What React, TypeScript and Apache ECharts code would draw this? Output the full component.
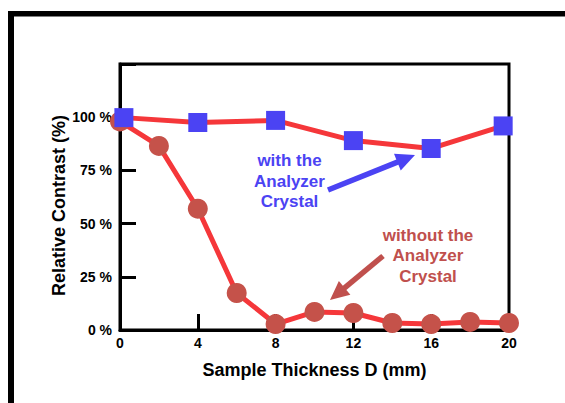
import React, { useEffect, useRef } from "react";
import * as echarts from "echarts";

const redX = [0, 2, 4, 6, 8, 10, 12, 14, 16, 18, 20];
const redY = [98, 86.5, 57, 17.4, 2.8, 8.5, 8, 3.3, 2.8, 3.8, 3.3];
const blueX = [0.2, 4, 8, 12, 16, 19.7];
const blueY = [99.8, 97.5, 98.5, 89, 85.3, 95.9];
const xTicks = [0, 4, 8, 12, 16, 20];
const yTicks = [0, 25, 50, 75, 100];

const FONT = "'Liberation Sans', Arial, Helvetica, sans-serif";
const LINE_RED = "#f5373a";
const CIRCLE_RED = "#c5524a";
const BLUE = "#4b43f3";
const TEXT_RED = "#c0504d";

function arrow(x1: number, y1: number, x2: number, y2: number, color: string) {
  const dx = x2 - x1;
  const dy = y2 - y1;
  const len = Math.sqrt(dx * dx + dy * dy);
  const ux = dx / len;
  const uy = dy / len;
  const headLen = 19;
  const headW = 9;
  const bx = x2 - ux * headLen;
  const by = y2 - uy * headLen;
  const px = -uy;
  const py = ux;
  return [
    {
      type: "line",
      z: 100,
      shape: { x1, y1, x2: bx + ux * 2, y2: by + uy * 2 },
      style: { stroke: color, lineWidth: 5.5 },
    },
    {
      type: "polygon",
      z: 100,
      shape: {
        points: [
          [x2, y2],
          [bx + px * headW, by + py * headW],
          [bx - px * headW, by - py * headW],
        ],
      },
      style: { fill: color },
    },
  ];
}

export default function App() {
  const ref = useRef<HTMLDivElement>(null);
  useEffect(() => {
    const chart = echarts.init(ref.current!, null, { renderer: "svg" });
    const labelStyle = { color: "#000", fontWeight: "bold", fontSize: 14, fontFamily: FONT };
    chart.setOption({
      animation: false,
      backgroundColor: "#fff",
      grid: {
        left: 120,
        right: 56,
        top: 64,
        bottom: 73,
        show: true,
        borderColor: "#000",
        borderWidth: 3,
      },
      xAxis: {
        type: "value",
        min: xTicks[0],
        max: xTicks[xTicks.length - 1],
        interval: 4,
        splitLine: { show: false },
        axisLine: { show: true, lineStyle: { color: "#000", width: 3 } },
        axisTick: { show: true, inside: true, length: 16, lineStyle: { color: "#000", width: 3 } },
        axisLabel: { ...labelStyle, margin: 6, formatter: (v: number) => String(v) },
        name: "Sample Thickness D (mm)",
        nameLocation: "middle",
        nameGap: 31,
        nameTextStyle: { color: "#000", fontWeight: "bold", fontSize: 18, fontFamily: FONT },
      },
      yAxis: {
        type: "value",
        min: 0,
        max: 125,
        interval: 25,
        splitLine: { show: false },
        axisLine: { show: true, lineStyle: { color: "#000", width: 3 } },
        axisTick: { show: true, inside: true, length: 16, lineStyle: { color: "#000", width: 3 } },
        axisLabel: {
          ...labelStyle,
          margin: 8,
          formatter: (v: number) => (yTicks.indexOf(v) >= 0 ? v + " %" : ""),
        },
      },
      series: [
        {
          type: "line",
          data: redX.map((x, i) => [x, redY[i]]),
          symbol: "circle",
          symbolSize: 20,
          lineStyle: { color: LINE_RED, width: 5 },
          itemStyle: { color: CIRCLE_RED },
          z: 2,
        },
        {
          type: "line",
          data: blueX.map((x, i) => [x, blueY[i]]),
          symbol: "rect",
          symbolSize: 19,
          lineStyle: { color: LINE_RED, width: 5 },
          itemStyle: { color: BLUE },
          z: 3,
        },
      ],
      graphic: [
        { type: "rect", z: 100, shape: { x: 8, y: 11, width: 557, height: 5.5 }, style: { fill: "#000" } },
        { type: "rect", z: 100, shape: { x: 8, y: 11, width: 6, height: 392 }, style: { fill: "#000" } },
        {
          type: "text",
          z: 100,
          x: 59,
          y: 205.5,
          rotation: Math.PI / 2,
          style: {
            text: "Relative Contrast (%)",
            align: "center",
            verticalAlign: "middle",
            fill: "#000",
            font: `bold 18px ${FONT}`,
          },
        },
        {
          type: "text",
          z: 100,
          x: 289.5,
          y: 181,
          style: {
            text: "with the\nAnalyzer\nCrystal",
            align: "center",
            verticalAlign: "middle",
            fill: BLUE,
            font: `bold 17px ${FONT}`,
            lineHeight: 20.5,
          },
        },
        {
          type: "text",
          z: 100,
          x: 428,
          y: 255.5,
          style: {
            text: "without the\nAnalyzer\nCrystal",
            align: "center",
            verticalAlign: "middle",
            fill: TEXT_RED,
            font: `bold 17px ${FONT}`,
            lineHeight: 20.5,
          },
        },
        ...arrow(328, 190, 415, 155, BLUE),
        ...arrow(383, 256, 330, 300, TEXT_RED),
      ],
    });
    return () => chart.dispose();
  }, []);
  return (
    <div
      ref={ref}
      style={{ position: "absolute", left: 0, top: 0, width: 565, height: 403 }}
    />
  );
}
